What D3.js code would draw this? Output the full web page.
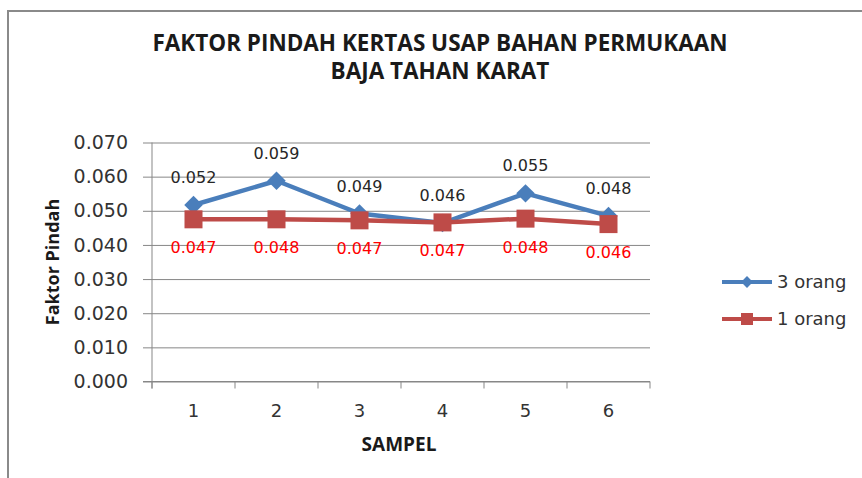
<!DOCTYPE html>
<html>
<head>
<meta charset="utf-8">
<script src="https://cdn.jsdelivr.net/npm/d3@7"></script>
<style>
  html, body { margin: 0; padding: 0; background: #fff; }
  svg { display: block; }
</style>
</head>
<body>
<svg id="chart" width="862" height="478"></svg>
<script>
// Faktor Pindah kertas usap — two-series line chart with data labels

const SAMPLES = ['1', '2', '3', '4', '5', '6'];
const THREE_PERSON = [0.0517, 0.0588, 0.0492, 0.0464, 0.0551, 0.0485];
const ONE_PERSON   = [0.0475, 0.0475, 0.0472, 0.0466, 0.0477, 0.0461];
const THREE_LABELS = ['0.052', '0.059', '0.049', '0.046', '0.055', '0.048'];
const ONE_LABELS   = ['0.047', '0.048', '0.047', '0.047', '0.048', '0.046'];
const Y_TICKS = [0, 0.01, 0.02, 0.03, 0.04, 0.05, 0.06, 0.07];

const BLUE = '#4a7ebb';
const RED = '#be4b48';
const GRID = '#878787';
const NUM_FONT = '"DejaVu Sans", Verdana, sans-serif';
const TITLE_FONT = '"Open Sans", "Liberation Sans", sans-serif';

const svg = d3.select('#chart');

const plot = { left: 152, right: 650, top: 142.5, bottom: 381.5 };

// outer chart border (runs off the right and bottom edges)
svg.append('rect')
  .attr('x', 8).attr('y', 11)
  .attr('width', 900).attr('height', 500)
  .attr('fill', 'none')
  .attr('stroke', '#8a8a8a')
  .attr('stroke-width', 2);

const x = d3.scaleBand().domain(SAMPLES).range([plot.left, plot.right]);
const y = d3.scaleLinear().domain([0, 0.07]).range([plot.bottom, plot.top]);
const cx = (i) => x(SAMPLES[i]) + x.bandwidth() / 2;

// gridlines + y axis
const yAxis = d3.axisLeft(y)
  .tickValues(Y_TICKS)
  .tickFormat(d3.format('.3f'))
  .tickSize(-(plot.right - plot.left))
  .tickPadding(24);

const gy = svg.append('g')
  .attr('transform', `translate(${plot.left},0)`)
  .call(yAxis);
gy.select('.domain').remove();
gy.selectAll('.tick line')
  .attr('x1', -9)
  .attr('stroke', GRID)
  .attr('stroke-width', 1);
gy.selectAll('.tick text')
  .attr('fill', '#333')
  .style('font-family', NUM_FONT)
  .style('font-size', '19px');

// y axis spine
svg.append('line')
  .attr('x1', plot.left).attr('x2', plot.left)
  .attr('y1', plot.top).attr('y2', plot.bottom + 7)
  .attr('stroke', GRID);

// x axis: ticks on band boundaries, labels at band centers
const gx = svg.append('g')
  .attr('transform', `translate(0,${plot.bottom})`);
gx.append('line')
  .attr('x1', plot.left - 9).attr('x2', plot.right)
  .attr('stroke', GRID);
gx.selectAll('line.bound')
  .data(SAMPLES.concat(['end']))
  .join('line')
  .attr('class', 'bound')
  .attr('x1', (d, i) => i < SAMPLES.length ? x(d) : plot.right)
  .attr('x2', (d, i) => i < SAMPLES.length ? x(d) : plot.right)
  .attr('y1', 0).attr('y2', 7)
  .attr('stroke', GRID);
gx.selectAll('text')
  .data(SAMPLES)
  .join('text')
  .attr('x', (d, i) => cx(i))
  .attr('y', 35)
  .attr('text-anchor', 'middle')
  .attr('fill', '#333')
  .style('font-family', NUM_FONT)
  .style('font-size', '18px')
  .text((d) => d);

// titles
const title = svg.append('text')
  .attr('text-anchor', 'middle')
  .attr('fill', '#1a1a1a')
  .style('font-family', TITLE_FONT)
  .style('font-weight', 700)
  .style('font-size', '22.5px');
title.append('tspan').attr('x', 440).attr('y', 51)
  .text('FAKTOR PINDAH KERTAS USAP BAHAN PERMUKAAN');
title.append('tspan').attr('x', 440).attr('y', 79)
  .text('BAJA TAHAN KARAT');

svg.append('text')
  .attr('x', 399).attr('y', 451)
  .attr('text-anchor', 'middle')
  .attr('fill', '#1a1a1a')
  .style('font-family', TITLE_FONT)
  .style('font-weight', 700)
  .style('font-size', '19px')
  .text('SAMPEL');

svg.append('text')
  .attr('transform', 'translate(59,262) rotate(-90)')
  .attr('text-anchor', 'middle')
  .attr('fill', '#1a1a1a')
  .style('font-family', TITLE_FONT)
  .style('font-weight', 700)
  .style('font-size', '18px')
  .text('Faktor Pindah');

// series
const line = d3.line().x((d, i) => cx(i)).y((d) => y(d));

svg.append('path').datum(THREE_PERSON)
  .attr('d', line)
  .attr('fill', 'none')
  .attr('stroke', BLUE)
  .attr('stroke-width', 4.5)
  .attr('stroke-linejoin', 'round');
svg.append('g').selectAll('path')
  .data(THREE_PERSON)
  .join('path')
  .attr('d', d3.symbol().type(d3.symbolSquare).size(170))
  .attr('transform', (d, i) => `translate(${cx(i)},${y(d)}) rotate(45)`)
  .attr('fill', BLUE);

svg.append('path').datum(ONE_PERSON)
  .attr('d', line)
  .attr('fill', 'none')
  .attr('stroke', RED)
  .attr('stroke-width', 4.5);
svg.append('g').selectAll('rect')
  .data(ONE_PERSON)
  .join('rect')
  .attr('x', (d, i) => cx(i) - 9)
  .attr('y', (d) => y(d) - 9)
  .attr('width', 18).attr('height', 18)
  .attr('fill', RED);

// data labels
svg.append('g').selectAll('text')
  .data(THREE_PERSON)
  .join('text')
  .attr('x', (d, i) => cx(i))
  .attr('y', (d) => y(d) - 22)
  .attr('text-anchor', 'middle')
  .attr('fill', '#262626')
  .style('font-family', NUM_FONT)
  .style('font-size', '16px')
  .text((d, i) => THREE_LABELS[i]);

svg.append('g').selectAll('text')
  .data(ONE_PERSON)
  .join('text')
  .attr('x', (d, i) => cx(i))
  .attr('y', (d) => y(d) + 34)
  .attr('text-anchor', 'middle')
  .attr('fill', '#ff0000')
  .style('font-family', NUM_FONT)
  .style('font-size', '16px')
  .text((d, i) => ONE_LABELS[i]);

// legend
const legendItems = [
  { label: '3 orang', color: BLUE, shape: 'diamond' },
  { label: '1 orang', color: RED, shape: 'square' },
];
const lg = svg.append('g').attr('transform', 'translate(722,282)');
legendItems.forEach((item, i) => {
  const row = lg.append('g').attr('transform', `translate(0,${i * 37})`);
  row.append('line')
    .attr('x1', 0).attr('x2', 50)
    .attr('stroke', item.color)
    .attr('stroke-width', 4);
  if (item.shape === 'diamond') {
    row.append('path')
      .attr('d', d3.symbol().type(d3.symbolSquare).size(70))
      .attr('transform', 'translate(25,0) rotate(45)')
      .attr('fill', item.color);
  } else {
    row.append('rect')
      .attr('x', 19).attr('y', -6)
      .attr('width', 12).attr('height', 12)
      .attr('fill', item.color);
  }
  row.append('text')
    .attr('x', 55).attr('y', 0)
    .attr('dy', '0.35em')
    .attr('fill', '#333')
    .style('font-family', NUM_FONT)
    .style('font-size', '18px')
    .text(item.label);
});
</script>
</body>
</html>
